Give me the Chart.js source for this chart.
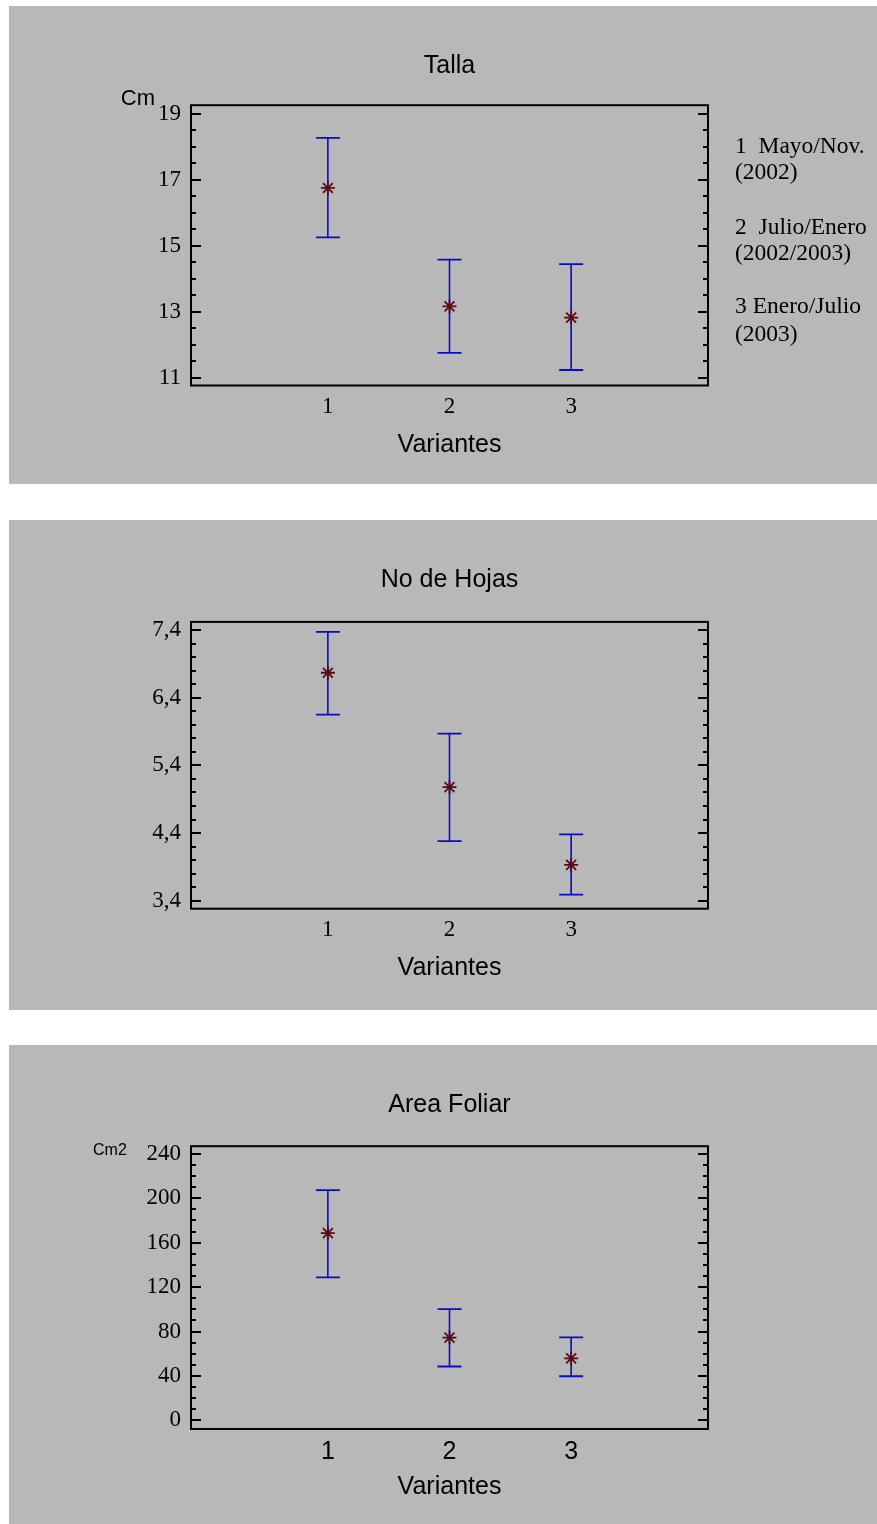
<!DOCTYPE html>
<html>
<head>
<meta charset="utf-8">
<script src="https://cdn.jsdelivr.net/npm/chart.js@4.4.1/dist/chart.umd.min.js"></script>
<style>
  body { margin: 0; background: #fff; width: 877px; height: 1524px; position: relative; overflow: hidden; }
  .panel { position: absolute; left: 9px; width: 868px; background: #b8b8b8; }
  canvas { display: block; }
</style>
</head>
<body>
<div class="panel" style="top:6px;height:478px"><canvas id="talla" width="868" height="478"></canvas></div>
<div class="panel" style="top:520px;height:490px"><canvas id="hojas" width="868" height="490"></canvas></div>
<div class="panel" style="top:1045px;height:479px"><canvas id="area" width="868" height="479"></canvas></div>
<script>
// Datos (media e intervalo por variante)
const variantes = [1, 2, 3];

const tallaMedia = [16.75, 13.16, 12.82];
const tallaInf = [15.25, 11.75, 11.23];
const tallaSup = [18.27, 14.58, 14.44];
const tallaTicks = [11, 13, 15, 17, 19];
const tallaTickLabels = ['11', '13', '15', '17', '19'];

const hojasMedia = [6.77, 5.08, 3.93];
const hojasInf = [6.15, 4.28, 3.49];
const hojasSup = [7.375, 5.87, 4.38];
const hojasTicks = [3.4, 4.4, 5.4, 6.4, 7.4];
const hojasTickLabels = ['3,4', '4,4', '5,4', '6,4', '7,4'];

const areaMedia = [168.6, 74.5, 55.8];
const areaInf = [128.8, 48.5, 39.7];
const areaSup = [207.4, 100.2, 74.8];
const areaTicks = [0, 40, 80, 120, 160, 200, 240];
const areaTickLabels = ['0', '40', '80', '120', '160', '200', '240'];

const leyenda = ['1  Mayo/Nov.', '(2002)', '2  Julio/Enero', '(2002/2003)', '3 Enero/Julio', '(2003)'];

const SANS = "'Liberation Sans', Arial, sans-serif";
const SERIF = "'Liberation Serif', 'Times New Roman', serif";
const AZUL = '#0a0acc';
const MARRON = '#5a0a16';

// Marco del gráfico con marcas hacia dentro a izquierda y derecha
const marco = {
    id: 'marco',
    afterDatasetsDraw(chart, args, opts) {
        const { ctx, chartArea: a, scales: { y } } = chart;
        ctx.save();
        ctx.strokeStyle = '#000';
        ctx.lineWidth = 2;
        const marca = (v, len) => {
            const py = Math.round(y.getPixelForValue(v));
            ctx.beginPath();
            ctx.moveTo(a.left, py); ctx.lineTo(a.left + len, py);
            ctx.moveTo(a.right, py); ctx.lineTo(a.right - len, py);
            ctx.stroke();
        };
        const n0 = Math.ceil(y.min / opts.menor - 1e-6);
        const n1 = Math.floor(y.max / opts.menor + 1e-6);
        for (let n = n0; n <= n1; n++) marca(n * opts.menor, 5);
        y.ticks.forEach(t => marca(t.value, 10));
        ctx.strokeRect(a.left, a.top, a.right - a.left, a.bottom - a.top);

        ctx.fillStyle = '#000';
        ctx.textBaseline = 'middle';
        (opts.textos || []).forEach(t => {
            ctx.font = t.font;
            ctx.textAlign = t.align || 'left';
            ctx.fillText(t.texto, t.x, t.y);
        });
        ctx.restore();
    }
};

function crearGrafico(id, c) {
    const datasets = [{
        data: variantes.map((x, i) => ({ x, y: c.media[i] })),
        pointStyle: 'star',
        pointRadius: 7,
        pointBorderColor: MARRON,
        pointBorderWidth: 1.8,
        showLine: false,
        order: 0
    }];
    variantes.forEach((x, i) => {
        datasets.push({
            data: [{ x, y: c.inf[i] }, { x, y: c.sup[i] }],
            showLine: true,
            borderColor: AZUL,
            borderWidth: 1.6,
            pointStyle: 'line',
            pointRadius: 12,
            pointBorderColor: AZUL,
            pointBorderWidth: 1.8,
            order: 1
        });
    });

    new Chart(document.getElementById(id), {
        type: 'scatter',
        data: { datasets },
        plugins: [marco],
        options: {
            responsive: false,
            animation: false,
            events: [],
            layout: { padding: { left: 0, right: 169, top: 0, bottom: 0 } },
            plugins: {
                legend: { display: false },
                tooltip: { enabled: false },
                title: {
                    display: true,
                    fullSize: false,
                    text: c.titulo,
                    color: '#000',
                    font: { family: SANS, size: 25, weight: 'normal' },
                    padding: { top: c.tituloArriba, bottom: c.tituloAbajo }
                },
                marco: { menor: c.menor, textos: c.textos }
            },
            scales: {
                x: {
                    type: 'linear',
                    min: -0.125,
                    max: 4.125,
                    afterBuildTicks: s => { s.ticks = variantes.map(v => ({ value: v })); },
                    afterFit: s => { s.height = c.altoX; },
                    ticks: {
                        callback: v => String(v),
                        color: '#000',
                        font: c.fuenteX,
                        padding: c.padX,
                        maxRotation: 0,
                        autoSkip: false
                    },
                    grid: { display: false, drawTicks: false },
                    border: { display: false },
                    title: {
                        display: true,
                        text: 'Variantes',
                        color: '#000',
                        font: { family: SANS, size: 25 },
                        padding: { top: 0, bottom: c.padTituloX }
                    }
                },
                y: {
                    min: c.yMin,
                    max: c.yMax,
                    afterBuildTicks: s => { s.ticks = c.ticks.map(v => ({ value: v })); },
                    afterFit: s => { s.width = 182; },
                    ticks: {
                        callback: (v, i) => c.etiquetas[i],
                        color: '#000',
                        font: { family: SERIF, size: 23 },
                        padding: 10
                    },
                    grid: { display: false, drawTicks: false },
                    border: { display: false }
                }
            }
        }
    });
}

crearGrafico('talla', {
    titulo: 'Talla',
    media: tallaMedia, inf: tallaInf, sup: tallaSup,
    ticks: tallaTicks, etiquetas: tallaTickLabels,
    yMin: 10.76, yMax: 19.26, menor: 0.5,
    tituloArriba: 45.2, tituloAbajo: 24,
    altoX: 98.5, padX: 8, padTituloX: 23.6,
    fuenteX: { family: SERIF, size: 23 },
    textos: [
        { texto: 'Cm', x: 146, y: 93, font: '22px ' + SANS, align: 'right' },
        { texto: leyenda[0], x: 726, y: 141, font: '23.5px ' + SERIF },
        { texto: leyenda[1], x: 726, y: 167, font: '23.5px ' + SERIF },
        { texto: leyenda[2], x: 726, y: 222, font: '23.5px ' + SERIF },
        { texto: leyenda[3], x: 726, y: 248, font: '23.5px ' + SERIF },
        { texto: leyenda[4], x: 726, y: 301, font: '23.5px ' + SERIF },
        { texto: leyenda[5], x: 726, y: 329, font: '23.5px ' + SERIF }
    ]
});

crearGrafico('hojas', {
    titulo: 'No de Hojas',
    media: hojasMedia, inf: hojasInf, sup: hojasSup,
    ticks: hojasTicks, etiquetas: hojasTickLabels,
    yMin: 3.282, yMax: 7.522, menor: 0.2,
    tituloArriba: 45.6, tituloAbajo: 26.3,
    altoX: 101.3, padX: 7, padTituloX: 26.6,
    fuenteX: { family: SERIF, size: 23 },
    textos: []
});

crearGrafico('area', {
    titulo: 'Area Foliar',
    media: areaMedia, inf: areaInf, sup: areaSup,
    ticks: areaTicks, etiquetas: areaTickLabels,
    yMin: -7.8, yMax: 246.9, menor: 10,
    tituloArriba: 45.6, tituloAbajo: 25.6,
    altoX: 95, padX: 8.6, padTituloX: 21.6,
    fuenteX: { family: SANS, size: 25 },
    textos: [
        { texto: 'Cm2', x: 84, y: 106, font: '16px ' + SANS }
    ]
});
</script>
</body>
</html>
